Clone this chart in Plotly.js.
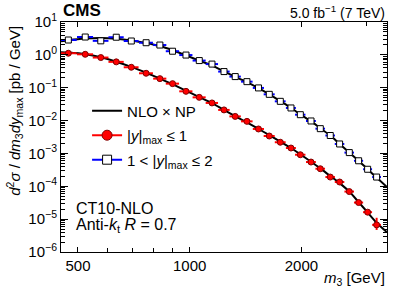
<!DOCTYPE html>
<html>
<head>
<meta charset="utf-8">
<script src="https://cdn.plot.ly/plotly-3.0.1.min.js"></script>
<style>html,body{margin:0;padding:0;background:#fff;}#chart{width:408px;height:288px;}</style>
</head>
<body>
<div id="chart"></div>
<script>
// m3 bin centres [GeV]
const m3 = [471, 523, 576, 634, 696, 763, 831, 899, 977, 1061, 1148, 1237, 1326, 1426, 1532, 1638, 1754, 1874, 1986, 2122, 2248, 2391, 2534, 2691, 2851, 3015, 3188];
// half bin widths [GeV]
const m3HalfWidth = [25, 26, 28, 30, 32, 33, 34, 37, 40, 43, 44, 44, 47, 51, 53, 56, 59, 58, 64, 65, 67, 71, 75, 80, 81, 84, 87];

// |y|max <= 1 cross section [pb/GeV]
const xsCentral = [1.12, 1.04, 0.828, 0.612, 0.419, 0.275, 0.189, 0.133, 0.0776, 0.0509, 0.0344, 0.0211, 0.0134, 0.00946, 0.00555, 0.00339, 0.00219, 0.00146, 0.000912, 0.000547, 0.000342, 0.000191, 0.000135, 6.9e-5, 3.2e-5, 1.63e-5, 6.7e-6];
const xsCentralErrUp = [0.02, 0.02, 0.015, 0.011, 0.008, 0.005, 0.004, 0.003, 0.002, 0.0012, 0.0009, 0.0006, 0.0004, 0.0003, 0.0002, 0.00012, 0.00008, 0.00006, 0.00004, 0.00003, 0.00002, 0.000012, 0.00001, 6e-6, 4e-6, 2.5e-6, 4.3e-6];
const xsCentralErrDn = [0.02, 0.02, 0.015, 0.011, 0.008, 0.005, 0.004, 0.003, 0.002, 0.0012, 0.0009, 0.0006, 0.0004, 0.0003, 0.0002, 0.00012, 0.00008, 0.00006, 0.00004, 0.00003, 0.00002, 0.000012, 0.00001, 5e-6, 3.5e-6, 2e-6, 2.0e-6];

// 1 < |y|max <= 2 cross section [pb/GeV]
const xsForward = [2.83, 3.49, 2.67, 3.44, 2.64, 2.34, 1.99, 1.29, 0.986, 0.670, 0.524, 0.310, 0.218, 0.153, 0.0986, 0.0629, 0.0385, 0.0242, 0.0151, 0.00972, 0.00567, 0.00351, 0.00194, 0.00106, 0.000598, 0.00033, 0.000191];
const xsForwardErr = [0.08, 0.1, 0.07, 0.08, 0.06, 0.05, 0.04, 0.03, 0.02, 0.015, 0.012, 0.007, 0.005, 0.004, 0.0025, 0.0016, 0.001, 0.0007, 0.0005, 0.0003, 0.0002, 0.00013, 0.00008, 0.00005, 0.00003, 0.00002, 0.000015];

// NLO x NP theory curves
const thM3 = [450, 471, 523, 576, 634, 696, 763, 831, 899, 977, 1061, 1148, 1237, 1326, 1426, 1532, 1638, 1754, 1874, 1986, 2122, 2248, 2391, 2534, 2691, 2851, 3015, 3188, 3400];
const thCentral = [1.2, 1.17, 1.05, 0.85, 0.62, 0.43, 0.285, 0.19, 0.128, 0.081, 0.052, 0.034, 0.021, 0.0136, 0.0088, 0.0056, 0.0036, 0.0023, 0.00146, 0.00094, 0.00056, 0.00035, 0.000205, 0.000125, 6.9e-5, 3.3e-5, 1.6e-5, 7.8e-6, 4.0e-6];
const thForward = [2.6, 2.8, 3.15, 3.25, 3.1, 2.75, 2.3, 1.85, 1.38, 0.96, 0.67, 0.47, 0.315, 0.215, 0.148, 0.097, 0.063, 0.039, 0.0245, 0.0154, 0.0096, 0.0058, 0.0035, 0.00195, 0.00107, 0.0006, 0.00033, 0.000185, 9.5e-5];

// axis ticks
const xTickVals = [500, 1000, 2000];
const xTickText = ['500', '1000', '2000'];
const xMinorTickVals = [600, 700, 800, 900, 3000];
const yTickVals = [1e-6, 1e-5, 1e-4, 1e-3, 1e-2, 1e-1, 1, 10];
const yTickText = ['10<sup>−6</sup>', '10<sup>−5</sup>', '10<sup>−4</sup>', '10<sup>−3</sup>', '10<sup>−2</sup>', '10<sup>−1</sup>', '10<sup>0</sup>', '10<sup>1</sup>'];

const FONT = 'Liberation Sans, Arial, Helvetica, sans-serif';

const traces = [
  {x: thM3, y: thForward, mode: 'lines', line: {color: '#000', width: 2, shape: 'spline', smoothing: 0.6}, showlegend: false, hoverinfo: 'skip'},
  {x: thM3, y: thCentral, mode: 'lines', line: {color: '#000', width: 2, shape: 'spline', smoothing: 0.6}, showlegend: false, hoverinfo: 'skip'},
  {x: m3, y: xsForward, mode: 'markers', showlegend: false,
   error_x: {type: 'data', array: m3HalfWidth, color: '#0000ff', thickness: 2, width: 0},
   error_y: {type: 'data', array: xsForwardErr, color: '#0000ff', thickness: 2, width: 0},
   marker: {symbol: 'square', size: 6, color: '#fff', line: {color: '#000', width: 1}}},
  {x: m3, y: xsCentral, mode: 'markers', showlegend: false,
   error_x: {type: 'data', array: m3HalfWidth, color: '#ff0000', thickness: 2, width: 0},
   error_y: {type: 'data', symmetric: false, array: xsCentralErrUp, arrayminus: xsCentralErrDn, color: '#ff0000', thickness: 2, width: 0},
   marker: {symbol: 'circle', size: 6, color: '#ff0000', line: {color: '#800000', width: 1}}},
  // legend proxies
  {x: [null], y: [null], mode: 'lines', name: 'NLO × NP', legendgroup: 'a', line: {color: '#000', width: 2}},
  {x: [null], y: [null], mode: 'lines+markers', name: '|<i>y</i>|<sub>max</sub> ≤ 1', legendgroup: 'b', line: {color: '#ff0000', width: 2},
   marker: {symbol: 'circle', size: 10, color: '#ff0000', line: {color: '#800000', width: 1}}},
  {x: [null], y: [null], mode: 'lines+markers', name: '1 < |<i>y</i>|<sub>max</sub> ≤ 2', legendgroup: 'c', line: {color: '#0000ff', width: 2},
   marker: {symbol: 'square', size: 9, color: '#fff', line: {color: '#000', width: 1}}}
];

const layout = {
  width: 408, height: 288,
  margin: {l: 61, r: 21, t: 22, b: 36},
  paper_bgcolor: '#fff', plot_bgcolor: '#fff',
  font: {family: FONT, size: 15, color: '#000'},
  showlegend: true,
  legend: {x: 0.08, y: 0.685, xanchor: 'left', yanchor: 'top', bgcolor: 'rgba(0,0,0,0)', font: {size: 15}, tracegroupgap: 2},
  xaxis: {
    type: 'log', range: [Math.log10(450), Math.log10(3400)],
    tickmode: 'array', tickvals: xTickVals, ticktext: xTickText,
    ticks: 'inside', ticklen: 5, tickcolor: '#000', mirror: 'ticks',
    minor: {tickmode: 'array', tickvals: xMinorTickVals, ticks: 'inside', ticklen: 4, tickcolor: '#000', showgrid: false},
    showline: true, linecolor: '#000', linewidth: 1, showgrid: false, zeroline: false,
    tickfont: {size: 15}
  },
  yaxis: {
    type: 'log', range: [-6, 1],
    tickmode: 'array', tickvals: yTickVals, ticktext: yTickText,
    ticks: 'inside', ticklen: 7, tickcolor: '#000', mirror: 'ticks',
    minor: {dtick: 'D1', ticks: 'inside', ticklen: 4, tickcolor: '#000', showgrid: false},
    showline: true, linecolor: '#000', linewidth: 1, showgrid: false, zeroline: false,
    tickfont: {size: 15}
  },
  annotations: [
    {xref: 'paper', yref: 'paper', x: 0, y: 1.048, xanchor: 'left', yanchor: 'middle', showarrow: false,
     text: '<b>CMS</b>', font: {size: 17}},
    {xref: 'paper', yref: 'paper', x: 1, y: 1.045, xanchor: 'right', yanchor: 'middle', showarrow: false,
     text: '5.0 fb<sup>−1</sup> (7 TeV)', font: {size: 14}},
    {xref: 'paper', yref: 'paper', x: 0.04, y: 0.191, xanchor: 'left', yanchor: 'middle', showarrow: false,
     text: 'CT10-NLO', font: {size: 16}},
    {xref: 'paper', yref: 'paper', x: 0.04, y: 0.114, xanchor: 'left', yanchor: 'middle', showarrow: false,
     text: 'Anti-<i>k</i><sub>t</sub> <i>R</i> = 0.7', font: {size: 16}},
    {xref: 'paper', yref: 'paper', x: 1, y: -0.117, xanchor: 'right', yanchor: 'middle', showarrow: false,
     text: '<i>m</i><sub>3</sub> [GeV]', font: {size: 15}},
    {xref: 'paper', yref: 'paper', x: -0.145, y: 0.613, xanchor: 'center', yanchor: 'middle', textangle: -90, showarrow: false,
     text: '<i>d</i><sup>2</sup><i>σ</i> / <i>dm</i><sub>3</sub><i>dy</i><sub>max</sub> [pb / GeV]', font: {size: 15}}
  ]
};

Plotly.newPlot('chart', traces, layout, {staticPlot: true, displayModeBar: false});
</script>
</body>
</html>
